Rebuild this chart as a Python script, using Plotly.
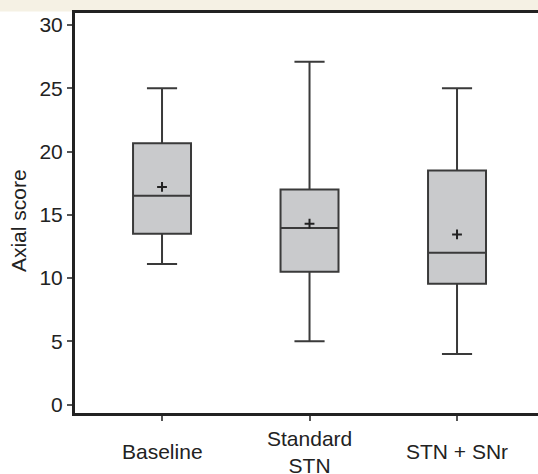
import plotly.graph_objects as go

categories = ["Baseline", "Standard<br>STN", "STN + SNr"]
positions = [0, 1, 2]
q1 = [13.5, 10.5, 9.55]
median = [16.5, 13.95, 12.0]
q3 = [20.65, 17.0, 18.5]
lower = [11.1, 5.0, 4.0]
upper = [25.0, 27.1, 25.0]
means = [17.2, 14.3, 13.45]
y_ticks = [0, 5, 10, 15, 20, 25, 30]

FONT = "Liberation Sans, Arial, sans-serif"
INK = "#222222"
FS = 21

fig = go.Figure()
fig.add_trace(go.Box(
    x=positions, q1=q1, median=median, q3=q3,
    lowerfence=lower, upperfence=upper,
    boxpoints=False, width=0.393, whiskerwidth=0.52,
    fillcolor="#c9cacc", line=dict(color="#3a3a3a", width=2),
    showlegend=False, hoverinfo="skip",
))
fig.add_trace(go.Scatter(
    x=positions, y=means, mode="markers",
    marker=dict(symbol="cross-thin", size=7, line=dict(color=INK, width=2)),
    showlegend=False, hoverinfo="skip",
))

for xp, lab in zip(positions, categories):
    fig.add_annotation(x=xp, y=-0.0975, xref="x", yref="paper",
                       text=lab, showarrow=False, yanchor="middle", xanchor="center",
                       font=dict(family=FONT, size=FS, color=INK))

fig.add_annotation(x=-0.123, y=0.48, xref="paper", yref="paper",
                   text="Axial score", textangle=-90, showarrow=False,
                   xanchor="center", yanchor="middle",
                   font=dict(family=FONT, size=FS, color=INK))

# beige strip at top
fig.add_shape(type="rect", xref="paper", yref="paper",
              x0=-0.2, x1=1.1, y0=1.004, y1=1.1,
              fillcolor="#f5f1e4", line=dict(width=0), layer="below")

fig.update_layout(
    width=538, height=474,
    margin=dict(l=75, r=0, t=13, b=61),
    paper_bgcolor="white", plot_bgcolor="white",
    font=dict(family=FONT, size=FS, color=INK),
    xaxis=dict(range=[-0.59, 2.549], tickvals=positions, ticktext=[""] * 3,
               showline=True, linecolor=INK, linewidth=3, mirror=True,
               ticks="outside", ticklen=5, tickcolor="#555", tickwidth=1.5,
               showgrid=False, zeroline=False),
    yaxis=dict(range=[-0.67, 30.95], tickvals=y_ticks,
               showline=True, linecolor=INK, linewidth=3,
               ticks="outside", ticklen=5, tickcolor="#555", tickwidth=1.5,
               showgrid=False, zeroline=False,
               tickfont=dict(family=FONT, size=FS, color=INK)),
)

fig.write_html(
    "out.html",
    config={"displayModeBar": False},
    post_script="document.body.style.margin='0';document.body.style.overflow='hidden';",
)
